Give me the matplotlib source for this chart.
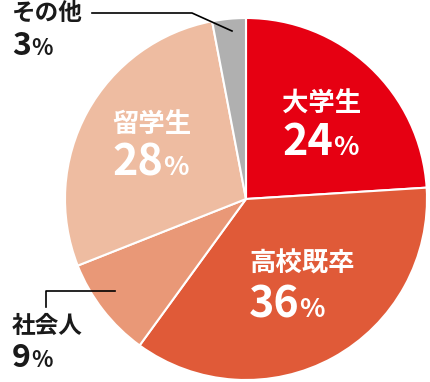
import matplotlib
matplotlib.use('Agg')
import matplotlib.pyplot as plt

plt.rcParams['font.family'] = ['Noto Sans CJK JP', 'DejaVu Sans']

# data
labels = ['大学生', '高校既卒', '社会人', '留学生', 'その他']
values = [24, 36, 9, 28, 3]
colors = ['#E60012', '#E05A38', '#E99877', '#EEBCA1', '#B0B0B0']

H = 382
fig = plt.figure(figsize=(4.3, 3.82), dpi=100)
ax = fig.add_axes([0, 0, 1, 1])

ax.pie(values, colors=colors, startangle=90, counterclock=False,
       center=(246, H - 199), radius=181, frame=True,
       wedgeprops=dict(edgecolor='white', linewidth=1.5))
ax.set_xlim(0, 430)
ax.set_ylim(0, H)
ax.set_aspect('equal')
ax.axis('off')

# label layout: (x, name y, number baseline y, colour, sizes)
layout = {
    '大学生': (282, 104, 155, 'white', 19, 31, 19),
    '高校既卒': (249, 264, 317, 'white', 19, 31, 19),
    '留学生': (112, 124, 175, 'white', 19, 31, 19),
    'その他': (12, 13, 55, '#1a1a1a', 17, 23, 16),
    '社会人': (12, 326, 367, '#1a1a1a', 17, 23, 16),
}
renderer = fig.canvas.get_renderer()
for name, v in zip(labels, values):
    x, yn, yb, c, fs1, fs2, fs3 = layout[name]
    ax.text(x, H - yn, name, color=c, fontsize=fs1, fontweight='bold',
            ha='left', va='center')
    num = ax.text(x, H - yb, str(v), color=c, fontsize=fs2, fontweight='bold',
                  ha='left', va='baseline')
    bb = num.get_window_extent(renderer)
    xr = ax.transData.inverted().transform((bb.x1, bb.y0))[0]
    ax.text(xr, H - yb, '%', color=c, fontsize=fs3, fontweight='bold',
            ha='left', va='baseline')

# leader lines
ax.plot([92, 192, 232], [H - 13, H - 13, H - 31], color='black', lw=1.2)
ax.plot([46, 46, 115], [H - 307, H - 291, H - 291], color='black', lw=1.2)

fig.savefig('out.png', dpi=100)
